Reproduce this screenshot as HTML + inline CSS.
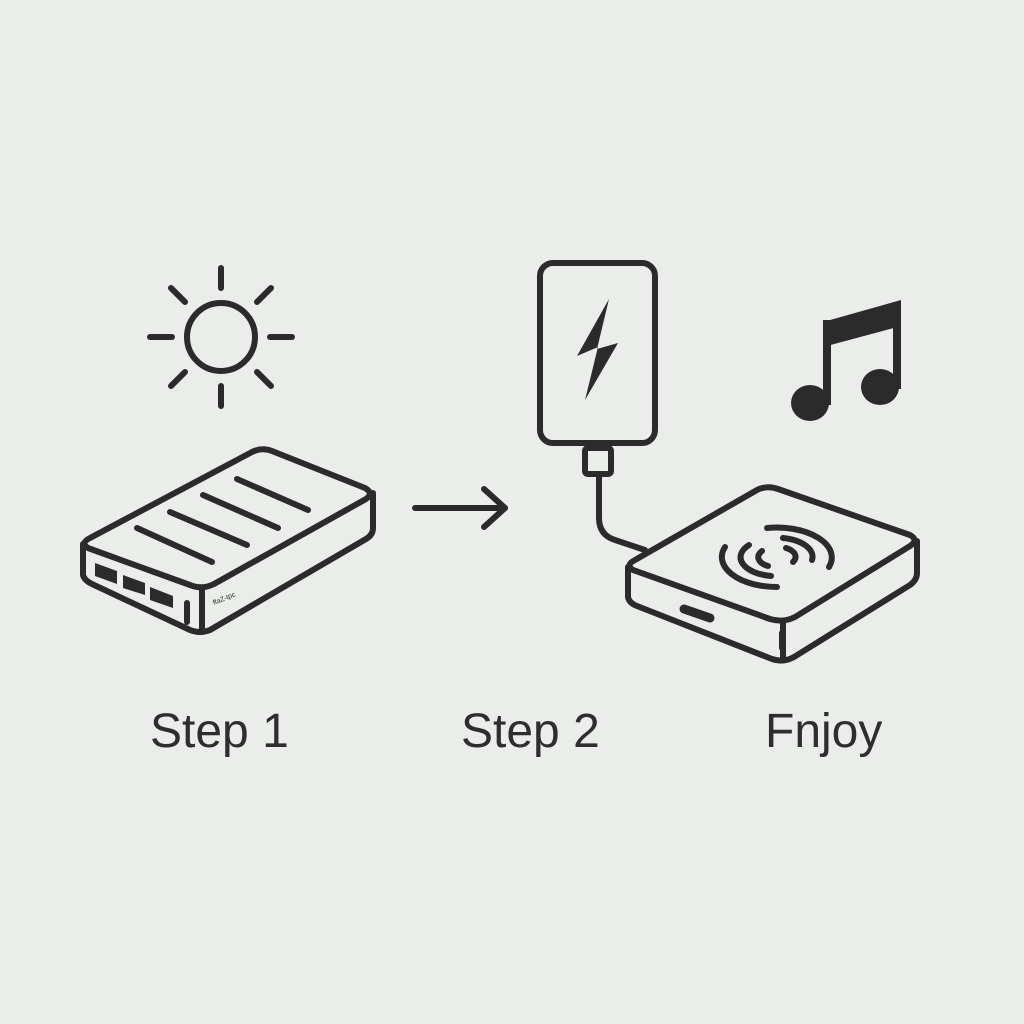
<!DOCTYPE html>
<html><head><style>
html,body{margin:0;padding:0;background:#eaedea;}
svg{display:block}
text{font-family:"Liberation Sans",sans-serif;fill:#2e2e2e;font-size:48px}
</style></head><body>
<svg width="1024" height="1024" viewBox="0 0 1024 1024">
<rect width="1024" height="1024" fill="#eaedea"/>
<g fill="none" stroke="#2b2b2b" stroke-width="6" stroke-linecap="round" stroke-linejoin="round">
 <!-- sun -->
 <circle cx="221" cy="337" r="34"/>
 <line x1="221" y1="268" x2="221" y2="288"/>
 <line x1="221" y1="386" x2="221" y2="406"/>
 <line x1="150" y1="337" x2="172" y2="337"/>
 <line x1="270" y1="337" x2="292" y2="337"/>
 <line x1="171" y1="288" x2="185" y2="302"/>
 <line x1="257" y1="372" x2="271" y2="386"/>
 <line x1="271" y1="288" x2="257" y2="302"/>
 <line x1="185" y1="372" x2="171" y2="386"/>
 <!-- left battery -->
 <path d="M90,538 L252,452 Q262,447 272,451 L365,488 Q374,493 366,499 L214,584 Q202,590 190,585 L88,548 Q80,543 90,538 Z"/>
 <path d="M83,544 L83,575 Q84,580 92,584 L190,630 Q200,634 210,630 L366,539 Q373,535 373,528 L373,493"/>
 <line x1="202" y1="588" x2="202" y2="632"/>
 <line x1="187" y1="603" x2="187" y2="622"/>
 <line x1="137" y1="528" x2="212" y2="562"/>
 <line x1="170" y1="512" x2="247" y2="545"/>
 <line x1="203" y1="495" x2="278" y2="528"/>
 <line x1="237" y1="479" x2="308" y2="510"/>
 <!-- arrow -->
 <line x1="415" y1="508" x2="505" y2="508"/>
 <polyline points="484,489 505,508 484,527"/>
 <!-- phone -->
 <rect x="540" y="263" width="115" height="180" rx="13"/>
 <rect x="585" y="448" width="26" height="26" rx="3"/>
 <path d="M599,477 L599,518 Q599,535 615,540 L645,550"/>
 <!-- pad -->
 <path d="M635,560 L757,490 Q767,485 778,489 L910,535 Q919,540 910,546 L795,617 Q783,623 770,619 L633,570 Q625,565 635,560 Z"/>
 <path d="M628,567 L628,597 Q629,603 637,606 L772,659 Q783,663 794,657 L910,585 Q917,580 917,573 L917,541"/>
 <line x1="783" y1="621" x2="783" y2="660"/>
 <line x1="782" y1="633" x2="782" y2="648"/>
 <line x1="684" y1="609" x2="710" y2="618" stroke-width="9"/>
 <!-- coil arcs -->
 <path d="M767,528 A55,30 0 0 1 829,567"/>
 <path d="M777,587 A55,30 0 0 1 725,547"/>
 <path d="M783,538 A36,19 0 0 1 812,560"/>
 <path d="M771,576 A36,19 0 0 1 749,545"/>
 <path d="M786,548 A18,10 0 0 1 793,562"/>
 <path d="M768,566 A18,10 0 0 1 762,551"/>
</g>
<!-- bolt -->
<path d="M609,299 L577,356 L598,347 L585,400 L618,343 L597,349 Z" fill="#2b2b2b"/>
<!-- ports -->
<g fill="#2b2b2b">
 <polygon points="95,563 117,571 117,584 95,576"/>
 <polygon points="123,575 145,583 145,595 123,588"/>
 <polygon points="150,587 173,596 173,608 150,600"/>
</g>
<text x="214" y="605" style="font-size:7px" transform="rotate(-22 214 605)">ffaZ-tpc</text>
<!-- music note -->
<g fill="#2b2b2b">
 <ellipse cx="810" cy="403" rx="19" ry="18"/>
 <ellipse cx="880" cy="387" rx="19" ry="18"/>
 <rect x="823" y="320" width="8" height="85"/>
 <rect x="893" y="302" width="8" height="87"/>
 <polygon points="823,322 901,300 901,326 823,347"/>
</g>
<text x="150" y="747">Step 1</text>
<text x="461" y="747">Step 2</text>
<text x="765" y="747">Fnjoy</text>
</svg>
</body></html>
